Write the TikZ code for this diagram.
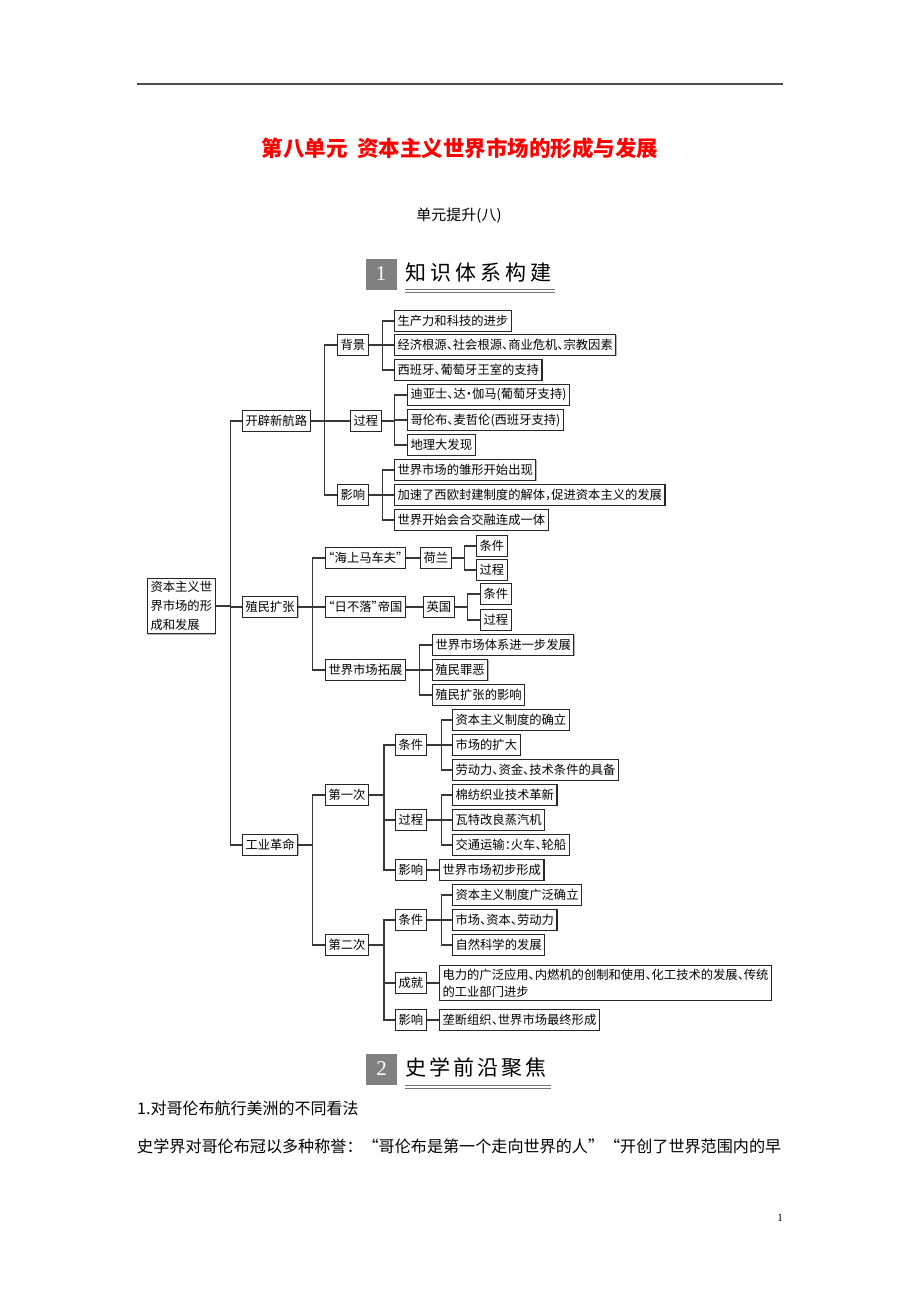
\documentclass[tikz,border=0pt]{standalone}
\usepackage{fontspec}
\newfontfamily\cjk[RawFeature={+halt}]{Noto Sans CJK SC}
\newfontfamily\cjkfull{Noto Sans CJK SC}
\newfontfamily\serifnum{Liberation Serif}
\usetikzlibrary{shadows}
\tikzset{
  bx/.style={draw=black!85, line width=1.1pt, fill=white, inner xsep=3pt, inner ysep=0pt,
    minimum height=21pt, anchor=west, font=\cjk\fontsize{12.3}{14}\selectfont,
    drop shadow={shadow xshift=0.8pt, shadow yshift=-0.8pt, fill=black!40, opacity=0.7}},
  ln/.style={draw=black!78, line width=1.1pt},
  hdbox/.style={fill=black!50, minimum size=31pt, inner sep=0pt, text=white,
    font=\serifnum\fontsize{21}{21}\selectfont},
  hdtext/.style={anchor=west, inner sep=0pt, font=\cjkfull\fontsize{21}{24}\selectfont},
  uline/.style={draw=black!55, line width=0.7pt},
  body/.style={anchor=west, inner sep=0pt, font=\cjkfull\fontsize{16}{18}\selectfont}
}
\newcommand\mybr[3]{\draw[ln] (#1.east) -- ++(#2,0) |- (#3.west);}
\begin{document}
\begin{tikzpicture}[x=1pt,y=-1pt]
\useasboundingbox (0,0) rectangle (920,1302);
\fill[white] (0,0) rectangle (920,1302);
% top rule
\draw[black!70, line width=1.3pt] (137,84) -- (783,84);
% title
\node[font=\cjk\bfseries\fontsize{21.5}{24}\selectfont, text=red] (title) at (460,148)
  {第八单元\hspace{0.45em}资本主义世界市场的形成与发展};
\node[font=\cjk\fontsize{15}{18}\selectfont] (sub) at (459,216) {单元提升(八)};
% header 1
\node[hdbox] (h1) at (381,274) {1};
\node[hdtext] (h1t) at (405,273) {知\hspace{4pt}识\hspace{4pt}体\hspace{4pt}系\hspace{4pt}构\hspace{4pt}建};
\draw[uline] (405,289.5) -- (555,289.5);
\draw[uline] (405,292.5) -- (555,292.5);

% ---------- tree ----------
\node[bx, align=left, inner ysep=3pt, font=\cjk\fontsize{12.3}{19}\selectfont] (root) at (147,606)
  {资本主义世\\界市场的形\\成和发展};
\node[bx] (n1) at (242,421) {开辟新航路};
\node[bx] (n2) at (242,607) {殖民扩张};
\node[bx] (n3) at (242,845) {工业革命};
\mybr{root}{15}{n1}
\mybr{root}{15}{n2}
\mybr{root}{15}{n3}

% 开辟新航路
\node[bx] (a1) at (337,345) {背景};
\node[bx] (a2) at (350,421) {过程};
\node[bx] (a3) at (337,495) {影响};
\mybr{n1}{14}{a1}
\mybr{n1}{14}{a2}
\mybr{n1}{14}{a3}
\node[bx] (a11) at (394,321) {生产力和科技的进步};
\node[bx] (a12) at (394,345) {经济根源、社会根源、商业危机、宗教因素};
\node[bx] (a13) at (394,370) {西班牙、葡萄牙王室的支持};
\mybr{a1}{14}{a11}
\mybr{a1}{14}{a12}
\mybr{a1}{14}{a13}
\node[bx] (a21) at (407,395) {迪亚士、达·伽马(葡萄牙支持)};
\node[bx] (a22) at (407,420) {哥伦布、麦哲伦(西班牙支持)};
\node[bx] (a23) at (407,445) {地理大发现};
\mybr{a2}{13}{a21}
\mybr{a2}{13}{a22}
\mybr{a2}{13}{a23}
\node[bx] (a31) at (394,470) {世界市场的雏形开始出现};
\node[bx] (a32) at (394,495) {加速了西欧封建制度的解体，促进资本主义的发展};
\node[bx] (a33) at (394,520) {世界开始会合交融连成一体};
\mybr{a3}{14}{a31}
\mybr{a3}{14}{a32}
\mybr{a3}{14}{a33}

% 殖民扩张
\node[bx] (b1) at (325,558) {“海上马车夫”};
\node[bx] (b2) at (325,607) {“日不落”帝国};
\node[bx] (b3) at (325,670) {世界市场拓展};
\mybr{n2}{14}{b1}
\mybr{n2}{14}{b2}
\mybr{n2}{14}{b3}
\node[bx] (b1c) at (420,558) {荷兰};
\draw[ln] (b1.east) -- (b1c.west);
\node[bx] (b1c1) at (476,546) {条件};
\node[bx] (b1c2) at (476,570) {过程};
\mybr{b1c}{13}{b1c1}
\mybr{b1c}{13}{b1c2}
\node[bx] (b2c) at (423,607) {英国};
\draw[ln] (b2.east) -- (b2c.west);
\node[bx] (b2c1) at (480,594) {条件};
\node[bx] (b2c2) at (480,620) {过程};
\mybr{b2c}{13}{b2c1}
\mybr{b2c}{13}{b2c2}
\node[bx] (b31) at (432,645) {世界市场体系进一步发展};
\node[bx] (b32) at (432,670) {殖民罪恶};
\node[bx] (b33) at (432,695) {殖民扩张的影响};
\mybr{b3}{14}{b31}
\mybr{b3}{14}{b32}
\mybr{b3}{14}{b33}

% 工业革命
\node[bx] (c1) at (325,795) {第一次};
\node[bx] (c2) at (325,945) {第二次};
\mybr{n3}{14}{c1}
\mybr{n3}{14}{c2}
\node[bx] (c1a) at (395,745) {条件};
\node[bx] (c1b) at (395,820) {过程};
\node[bx] (c1c) at (395,870) {影响};
\mybr{c1}{15}{c1a}
\mybr{c1}{15}{c1b}
\mybr{c1}{15}{c1c}
\node[bx] (c1a1) at (452,720) {资本主义制度的确立};
\node[bx] (c1a2) at (452,745) {市场的扩大};
\node[bx] (c1a3) at (452,770) {劳动力、资金、技术条件的具备};
\mybr{c1a}{15}{c1a1}
\mybr{c1a}{15}{c1a2}
\mybr{c1a}{15}{c1a3}
\node[bx] (c1b1) at (452,795) {棉纺织业技术革新};
\node[bx] (c1b2) at (452,820) {瓦特改良蒸汽机};
\node[bx] (c1b3) at (452,845) {交通运输：火车、轮船};
\mybr{c1b}{15}{c1b1}
\mybr{c1b}{15}{c1b2}
\mybr{c1b}{15}{c1b3}
\node[bx] (c1c1) at (439,870) {世界市场初步形成};
\draw[ln] (c1c.east) -- (c1c1.west);

\node[bx] (c2a) at (395,920) {条件};
\node[bx] (c2b) at (395,983) {成就};
\node[bx] (c2c) at (395,1020) {影响};
\mybr{c2}{15}{c2a}
\mybr{c2}{15}{c2b}
\mybr{c2}{15}{c2c}
\node[bx] (c2a1) at (452,895) {资本主义制度广泛确立};
\node[bx] (c2a2) at (452,920) {市场、资本、劳动力};
\node[bx] (c2a3) at (452,945) {自然科学的发展};
\mybr{c2a}{15}{c2a1}
\mybr{c2a}{15}{c2a2}
\mybr{c2a}{15}{c2a3}
\node[bx, align=left, inner ysep=3pt, font=\cjk\fontsize{12.3}{17}\selectfont] (c2b1) at (439,983)
  {电力的广泛应用、内燃机的创制和使用、化工技术的发展、传统\\的工业部门进步};
\draw[ln] (c2b.east) -- (c2b1.west);
\node[bx] (c2c1) at (439,1020) {垄断组织、世界市场最终形成};
\draw[ln] (c2c.east) -- (c2c1.west);

% header 2
\node[hdbox] (h2) at (381.5,1069) {2};
\node[hdtext] (h2t) at (405,1068) {史\hspace{3pt}学\hspace{3pt}前\hspace{3pt}沿\hspace{3pt}聚\hspace{3pt}焦};
\draw[uline] (405,1085.5) -- (551,1085.5);
\draw[uline] (405,1088.5) -- (551,1088.5);

% body text
\node[body] (t1) at (137,1108) {1.对哥伦布航行美洲的不同看法};
\node[body, font=\cjkfull\fontsize{16.1}{18}\selectfont] (t2) at (137,1146) {史学界对哥伦布冠以多种称誉：“哥伦布是第一个走向世界的人”“开创了世界范围内的早};
\node[font=\serifnum\fontsize{11}{12}\selectfont] (pg) at (780,1218) {1};
\end{tikzpicture}
\end{document}
